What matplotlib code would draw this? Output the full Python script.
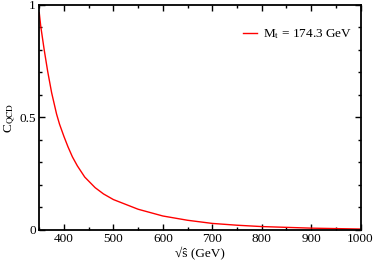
import matplotlib
matplotlib.use("Agg")
import matplotlib.pyplot as plt
from matplotlib.ticker import MultipleLocator, FixedLocator

# values
sqrt_s = [350, 353, 360, 367, 375, 385, 391, 400, 408, 417, 427, 442, 463, 480,
          500, 550, 600, 650, 700, 750, 800, 900, 1000]
c_qcd = [0.965, 0.905, 0.80, 0.705, 0.61, 0.515, 0.47, 0.415, 0.37, 0.325, 0.285, 0.235,
         0.188, 0.16, 0.135, 0.092, 0.062, 0.043, 0.029, 0.021, 0.015, 0.008, 0.004]
legend_label = r"M$_{\rm t}$ = 174.3 GeV"

plt.rcParams['font.family'] = ['Liberation Serif', 'DejaVu Serif']
plt.rcParams['mathtext.fontset'] = 'stix'
plt.rcParams['font.size'] = 9.5

fig = plt.figure(figsize=(3.74, 2.61), dpi=100)
ax = fig.add_axes([0.105, 0.119, 0.859, 0.862])

ax.plot(sqrt_s, c_qcd, color='red', lw=1.0, label=legend_label)

ax.set_xlim(350, 1000)
ax.set_ylim(0, 1)
ax.xaxis.set_major_locator(MultipleLocator(100))
ax.xaxis.set_minor_locator(MultipleLocator(50))
ax.yaxis.set_major_locator(FixedLocator([0, 0.5, 1]))
ax.yaxis.set_minor_locator(MultipleLocator(0.1))
ax.set_yticklabels(['0', '0.5', '1'])

ax.tick_params(which='both', direction='in', top=True, right=True, width=1.0, labelsize=9.5)
ax.tick_params(which='major', length=4, pad=2.5)
ax.tick_params(which='minor', length=2)
for sp in ax.spines.values():
    sp.set_linewidth(1.3)

ax.set_xlabel("√ŝ (GeV)", fontsize=9.5, labelpad=1)
ax.set_ylabel(r"C$_{\rm QCD}$", fontsize=9.5, labelpad=1)

ax.legend(loc='upper right', bbox_to_anchor=(0.975, 0.90), frameon=False,
          handlelength=1.0, handletextpad=0.5, borderpad=0, borderaxespad=0,
          fontsize=9.5)

fig.savefig('out.png', dpi=100)
